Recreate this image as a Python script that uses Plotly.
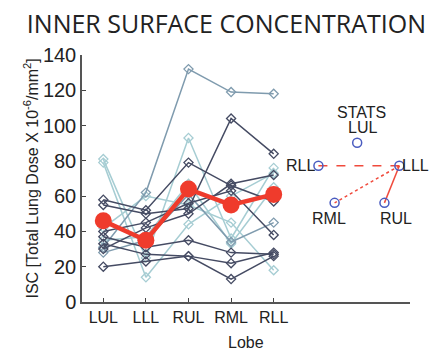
import plotly.graph_objects as go

lobes = ["LUL", "LLL", "RUL", "RML", "RLL"]
xpos = [1, 2, 3, 4, 5]

# individual subjects (LUL, LLL, RUL, RML, RLL)
dark_series = [
    [58, 52, 79, 66, 57],
    [55, 50, 53, 104, 84],
    [40, 45, 56, 63, 38],
    [37, 31, 35, 28, 27],
    [33, 27, 26, 22, 28],
    [20, 23, 26, 13, 26],
    [30, 42, 50, 67, 72],
]
medium_series = [
    [31, 62, 132, 119, 118],
    [28, 35, 61, 34, 45],
]
light_series = [
    [81, 25, 93, 36, 76],
    [79, 14, 44, 60, 73],
    [42, 60, 55, 45, 18],
    [35, 37, 67, 33, 65],
]
mean_values = [46, 35, 64, 55, 61]

# schematic of the statistics (node names and schematic positions)
stats_names = ["LUL", "RLL", "LLL", "RML", "RUL"]
stats_x = [6.96, 6.05, 7.95, 6.43, 7.6]
stats_y = [90.3, 77.2, 77.2, 56.2, 56.2]
stats_links = [("RLL", "LLL", "dash"), ("LLL", "RML", "dot"), ("LLL", "RUL", "solid")]

fig = go.Figure()

def add_group(series, color):
    for s in series:
        fig.add_trace(go.Scatter(
            x=xpos, y=s, mode="lines+markers",
            line=dict(color=color, width=1.5),
            marker=dict(symbol="diamond-open", size=7, color=color, line=dict(width=1.3)),
            showlegend=False, cliponaxis=False))

add_group(light_series, "#a6cdd3")
add_group(medium_series, "#7f9bae")
add_group(dark_series, "#454b63")

fig.add_trace(go.Scatter(
    x=xpos, y=mean_values, mode="lines+markers",
    line=dict(color="#ef3b2c", width=4.5),
    marker=dict(symbol="circle", size=17, color="#ef3b2c"),
    showlegend=False))

idx = {n: i for i, n in enumerate(stats_names)}
for a, b, d in stats_links:
    fig.add_trace(go.Scatter(
        x=[stats_x[idx[a]], stats_x[idx[b]]], y=[stats_y[idx[a]], stats_y[idx[b]]],
        mode="lines", line=dict(color="#f04a3c", width=1.5, dash=d),
        showlegend=False, cliponaxis=False))

fig.add_trace(go.Scatter(
    x=stats_x, y=stats_y, mode="markers",
    marker=dict(symbol="circle-open", size=9, color="#4a5cc0", line=dict(width=1.5)),
    showlegend=False, cliponaxis=False))

label_cfg = {
    "LUL": dict(text="LUL", xanchor="center", yanchor="middle", xshift=5, yshift=15),
    "RLL": dict(text="RLL", xanchor="right", yanchor="middle", xshift=-2, yshift=0),
    "LLL": dict(text="LLL", xanchor="left", yanchor="middle", xshift=2, yshift=0),
    "RML": dict(text="RML", xanchor="center", yanchor="top", xshift=-6, yshift=-6),
    "RUL": dict(text="RUL", xanchor="center", yanchor="top", xshift=12, yshift=-6),
}
for n in stats_names:
    c = label_cfg[n]
    fig.add_annotation(x=stats_x[idx[n]], y=stats_y[idx[n]], text=c["text"],
                       showarrow=False, xanchor=c["xanchor"], yanchor=c["yanchor"],
                       xshift=c["xshift"], yshift=c["yshift"], borderpad=0,
                       font=dict(family="Liberation Sans", size=16, color="#222"))
fig.add_annotation(x=stats_x[idx["LUL"]], y=stats_y[idx["LUL"]], text="STATS",
                   showarrow=False, xanchor="center", yanchor="middle",
                   xshift=4, yshift=30, borderpad=0,
                   font=dict(family="Liberation Sans", size=16, color="#222"))

# axis titles
fig.add_annotation(xref="paper", yref="paper", x=0.5, y=0, yshift=-40,
                   xanchor="center", yanchor="middle", showarrow=False,
                   text="Lobe", font=dict(family="Liberation Sans", size=16, color="#222"))
fig.add_annotation(xref="paper", yref="paper", x=0, y=0.5, xshift=-51,
                   xanchor="center", yanchor="middle", showarrow=False, textangle=-90,
                   text="ISC [Total Lung Dose X 10<sup>-6</sup>/mm<sup>2</sup>]",
                   font=dict(family="Liberation Sans", size=16, color="#222"))

fig.update_layout(
    width=444, height=350,
    margin=dict(l=82, r=34, t=55, b=48),
    paper_bgcolor="white", plot_bgcolor="white",
    title=dict(text="INNER SURFACE CONCENTRATION", x=0.51, xanchor="center",
               y=0.93, yanchor="middle",
               font=dict(family="Open Sans", size=25, color="#222")),
    font=dict(family="Liberation Sans", color="#222"),
)
fig.update_xaxes(
    range=[0.5, 8.2], tickmode="array", tickvals=xpos, ticktext=lobes,
    ticks="inside", ticklen=4, tickcolor="#444", automargin=False,
    showline=True, linecolor="#555", linewidth=1.5, showgrid=False, zeroline=False,
    tickfont=dict(size=16))
fig.update_yaxes(
    range=[0, 140], tickvals=[0, 20, 40, 60, 80, 100, 120, 140],
    ticks="inside", ticklen=4, tickcolor="#444", automargin=False,
    showline=True, linecolor="#555", linewidth=1.5, showgrid=False, zeroline=False,
    tickfont=dict(size=20))

fig.write_html("out.html")
